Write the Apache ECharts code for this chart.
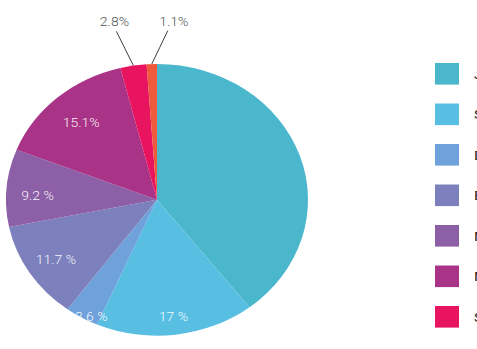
<!DOCTYPE html>
<html>
<head>
<meta charset="utf-8">
<script src="https://cdn.jsdelivr.net/npm/echarts@6/dist/echarts.min.js"></script>
<style>
html,body{margin:0;padding:0;background:#fff;overflow:hidden;}
#wrap{width:477px;height:349px;overflow:hidden;position:relative;}
#chart{width:477px;height:388px;transform:scale(1,0.9);transform-origin:0 0;}
</style>
</head>
<body>
<div id="wrap"><div id="chart"></div></div>
<script>
// ---- data ----
const categories = ['Japon', 'Search', 'Display', 'Email', 'Mobile', 'Media', 'Social', 'Video'];
const values = [39.5, 17, 3.6, 11.7, 9.2, 15.1, 2.8, 1.1];
const labelTexts = ['', '17 %', '3.6 %', '11.7 %', '9.2 %', '15.1%', '2.8%', '1.1%'];
const outsideIdx = [6, 7];

// ---- styles ----
const colors = ['#4ab7cd', '#58bfe3', '#6fa2da', '#7c80bd', '#8c5fa6', '#a93487', '#e8145f', '#f05a3c'];
const FONT = '"Roboto", sans-serif';
const CX = 157, CY = 222, R = 151;
// label rings: label radius, extra nudge, and which items show their label there
const rings = [
  {r: 131, nudge: [0, 0], items: [1]},
  {r: 146, nudge: [7, 3], items: [2]},
  {r: 120, nudge: [0, 2], items: [3]},
  {r: 120, nudge: [0, 5], items: [4]},
  {r: 115, nudge: [0, 1], items: [5]}
];
const outOffset = {6: [-19, -42, -17, -38], 7: [22, -40, 16, -37]};

const data = categories.map((c, i) => ({name: c, value: values[i], itemStyle: {color: colors[i]}}));

const labelFont = {fontFamily: FONT, fontWeight: 300, fontSize: 14};

const series = [
  {
    type: 'pie',
    z: 1,
    center: [CX, CY],
    radius: [0, R],
    startAngle: 90,
    clockwise: true,
    avoidLabelOverlap: false,
    silent: true,
    data: data.map((d, i) => Object.assign({}, d, {
      label: {show: outsideIdx.includes(i)},
      labelLine: {show: outsideIdx.includes(i)}
    })),
    label: Object.assign({
      position: 'outside',
      formatter: p => labelTexts[p.dataIndex],
      color: '#555'
    }, labelFont),
    labelLine: {length: 20, length2: 0, lineStyle: {color: '#333', width: 1}},
    labelLayout: function (p) {
      const o = outOffset[p.dataIndex];
      if (!o || !p.labelLinePoints) return {};
      const p0 = p.labelLinePoints[0];
      const lx = p0[0] + o[0], ly = p0[1] + o[1];
      const ex = p0[0] + o[2], ey = p0[1] + o[3];
      return {
        x: lx, y: ly, align: 'center', verticalAlign: 'bottom',
        labelLinePoints: [[p0[0], p0[1]], [(p0[0] + ex) / 2, (p0[1] + ey) / 2], [ex, ey]]
      };
    }
  }
];
// transparent overlay pies that only carry the in-slice labels
rings.forEach(ring => {
  series.push({
    type: 'pie',
    z: 5,
    center: [CX, CY],
    radius: [0, ring.r],
    startAngle: 90,
    clockwise: true,
    silent: true,
    avoidLabelOverlap: false,
    legendHoverLink: false,
    data: data.map((d, i) => ({
      name: d.name, value: d.value,
      itemStyle: {color: 'rgba(0,0,0,0)'},
      label: {show: ring.items.includes(i)}
    })),
    label: Object.assign({
      position: 'outside',
      distanceToLabelLine: 0,
      padding: [3, 0, 0, 0],
      formatter: p => labelTexts[p.dataIndex],
      color: 'rgba(255,255,255,0.95)'
    }, labelFont),
    labelLine: {show: false, length: 0, length2: 0},
    labelLayout: function (p) {
      const rc = p.labelRect;
      const anchorX = (rc.x + rc.width / 2 < CX) ? rc.x + rc.width : rc.x;
      const anchorY = rc.y + rc.height / 2;
      return {
        x: anchorX + ring.nudge[0],
        y: anchorY + ring.nudge[1] / 0.9,
        align: 'center', verticalAlign: 'middle'
      };
    }
  });
});

const chart = echarts.init(document.getElementById('chart'), null, {renderer: 'svg'});
chart.setOption({
  animation: false,
  legend: {
    orient: 'vertical',
    left: 435,
    top: 70,
    padding: 0,
    itemWidth: 24,
    itemHeight: 24,
    itemGap: 21,
    icon: 'rect',
    selectedMode: false,
    data: categories,
    itemStyle: {borderWidth: 0},
    textStyle: {fontFamily: FONT, fontSize: 15, color: '#222', padding: [0, 0, 0, 10]}
  },
  series: series
});
</script>
</body>
</html>
